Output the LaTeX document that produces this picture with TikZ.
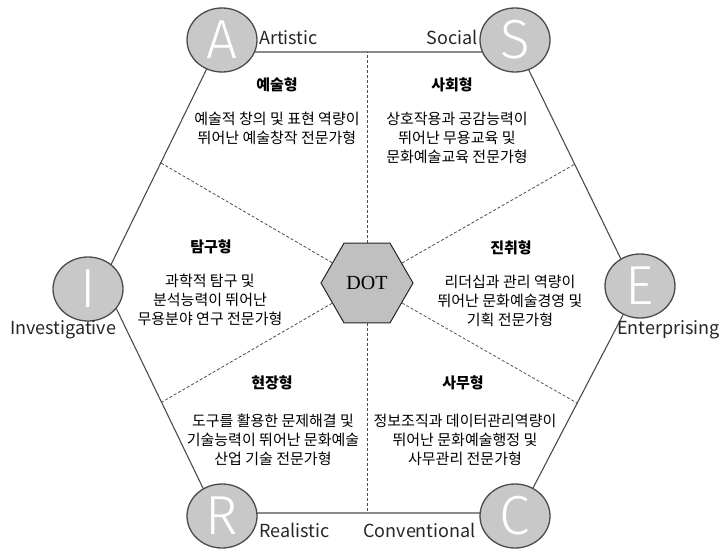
\documentclass[tikz,border=0pt]{standalone}
\usepackage{fontspec}
\setmainfont{Noto Sans CJK KR}
\newfontfamily\dotfont{Liberation Serif}
\newfontfamily\letterfont[UprightFont={* Light}]{Fira Sans}
\usetikzlibrary{shapes.geometric}
\definecolor{typeFill}{RGB}{200,200,200}
\definecolor{typeLine}{RGB}{75,75,75}
\definecolor{dotFill}{RGB}{192,192,192}
\begin{document}
\begin{tikzpicture}
[x=1pt,y=-1pt,
  edgeDecorate/.style={-,line width=1.1pt,draw=typeLine},
  splitDecorate/.style={-,densely dashed,line width=0.8pt,draw=black!70},
  typeDecorate/.style={shape=ellipse,draw=typeLine,line width=1.3pt,fill=typeFill,
    minimum width=70pt,minimum height=64pt,inner sep=0pt,text=white,
    font=\letterfont\fontsize{55}{55}\selectfont},
  dotDecorate/.style={shape=regular polygon,regular polygon sides=6,minimum size=92pt,
    inner sep=0pt,draw=black!85,line width=1pt,fill=dotFill,
    font=\dotfont\fontsize{20}{20}\selectfont},
  nameDecorate/.style={font=\fontsize{18}{18}\selectfont,text=black!85,inner sep=0pt},
  titleDecorate/.style={font=\bfseries\fontsize{15}{15}\selectfont,inner sep=0pt},
  textDecorate/.style={align=center,font=\fontsize{15}{19}\selectfont,inner sep=0pt}]
\useasboundingbox (0,0) rectangle (722,551);
%% outer frame
\foreach \cname/\x/\y in {
  tl/215/52, tr/520/52, rv/636/290, br/520/513, bl/215/513, lv/103/281}
{
  \coordinate (\cname) at (\x,\y);
}
\draw[edgeDecorate] (tl) -- (tr) -- (rv) -- (br) -- (bl) -- (lv) -- cycle;
%% split points on the frame
\foreach \cname/\x/\y in {
  mT/367/52, mUR/575/164, mLR/577/403, mB/367/513, mLL/162/402, mUL/161/163}
{
  \coordinate (\cname) at (\x,\y);
}
\node (DOT) at (367,283) [dotDecorate] {DOT};
\path
\foreach \endnode in {mT, mUR, mLR, mB, mLL, mUL}
{
  (DOT) edge[splitDecorate] (\endnode)
};
%% type circles
\foreach \nodename/\x/\y in {
  A/222/40, S/515/40, E/640/286, C/515/516, R/222/516, I/88/289}
{
  \node (\nodename) at (\x,\y) [typeDecorate] {\nodename};
}
%% type names
\node (artistic) at (259,45) [nameDecorate,anchor=base west] {Artistic};
\node (social) at (478,45) [nameDecorate,anchor=base east] {Social};
\node (investigative) at (10,334) [nameDecorate,anchor=base west] {Investigative};
\node (enterprising) at (720,334) [nameDecorate,anchor=base east] {Enterprising};
\node (realistic) at (259,537) [nameDecorate,anchor=base west] {Realistic};
\node (conventional) at (476,537) [nameDecorate,anchor=base east] {Conventional};
%% titles
\foreach \tname/\x/\y/\ttext in {
  aTitle/277/85/예술형, sTitle/452/85/사회형, iTitle/211/247/탐구형,
  eTitle/511/248/진취형, rTitle/272/383/현장형, cTitle/463/383/사무형}
{
  \node (\tname) at (\x,\y) [titleDecorate] {\ttext};
}
%% descriptions
\node (aText) at (277,128) [textDecorate] {예술적 창의 및 표현 역량이\\뛰어난 예술창작 전문가형};
\node (sText) at (457,138) [textDecorate] {상호작용과 공감능력이\\뛰어난 무용교육 및\\문화예술교육 전문가형};
\node (iText) at (210,300) [textDecorate] {과학적 탐구 및\\분석능력이 뛰어난\\무용분야 연구 전문가형};
\node (eText) at (510,301) [textDecorate] {리더십과 관리 역량이\\뛰어난 문화예술경영 및\\기획 전문가형};
\node (rText) at (273,440) [textDecorate] {도구를 활용한 문제해결 및\\기술능력이 뛰어난 문화예술\\산업 기술 전문가형};
\node (cText) at (465,440) [textDecorate] {정보조직과 데이터관리역량이\\뛰어난 문화예술행정 및\\사무관리 전문가형};
\end{tikzpicture}
\end{document}
